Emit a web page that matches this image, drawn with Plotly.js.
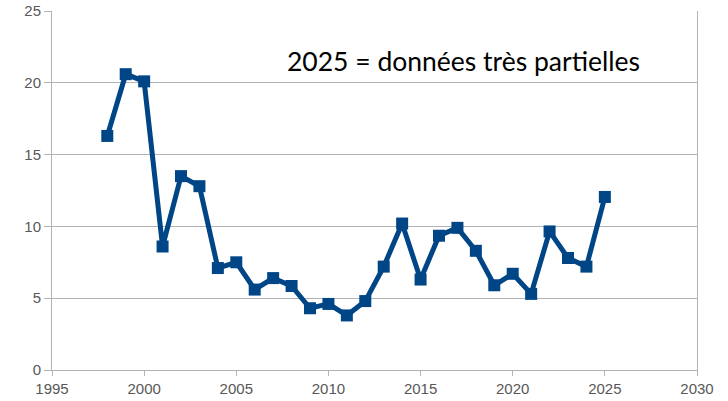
<!DOCTYPE html>
<html>
<head>
<meta charset="utf-8">
<script src="https://cdn.plot.ly/plotly-3.0.1.min.js"></script>
<style>
  body { margin: 0; background: #fff; }
  #chart { width: 728px; height: 401px; }
</style>
</head>
<body>
<div id="chart"></div>
<script>
// Années et valeurs
const annees = [1998, 1999, 2000, 2001, 2002, 2003, 2004, 2005, 2006, 2007,
                2008, 2009, 2010, 2011, 2012, 2013, 2014, 2015, 2016, 2017,
                2018, 2019, 2020, 2021, 2022, 2023, 2024, 2025];
const valeurs = [16.3, 20.6, 20.1, 8.6, 13.5, 12.8, 7.1, 7.5, 5.6, 6.4,
                 5.85, 4.3, 4.6, 3.8, 4.8, 7.2, 10.2, 6.3, 9.35, 9.9,
                 8.3, 5.9, 6.7, 5.3, 9.65, 7.8, 7.2, 12.05];
const ticksX = [1995, 2000, 2005, 2010, 2015, 2020, 2025, 2030];
const ticksY = [0, 5, 10, 15, 20, 25];
const note = '2025 = données très partielles';

const trace = {
    x: annees,
    y: valeurs,
    type: 'scatter',
    mode: 'lines+markers',
    line: { color: '#004586', width: 5 },
    marker: { symbol: 'square', size: 12, color: '#004586' },
    hoverinfo: 'x+y'
};

const layout = {
    width: 728,
    height: 401,
    margin: { l: 52, r: 31, t: 11, b: 31 },
    paper_bgcolor: '#ffffff',
    plot_bgcolor: '#ffffff',
    showlegend: false,
    font: { family: 'Liberation Sans, Arial, sans-serif', size: 15, color: '#585858' },
    xaxis: {
        range: [1995, 2030],
        tickvals: ticksX,
        ticktext: ticksX.map(String),
        showgrid: false,
        zeroline: false,
        showline: true,
        linecolor: '#b3b3b3',
        linewidth: 1,
        ticks: 'outside',
        ticklen: 5,
        tickcolor: '#b3b3b3'
    },
    yaxis: {
        range: [0, 25],
        tickvals: ticksY,
        ticktext: ticksY.map(String),
        showgrid: true,
        gridcolor: '#b3b3b3',
        zeroline: false,
        showline: true,
        mirror: true,
        linecolor: '#b3b3b3',
        linewidth: 1,
        ticks: 'outside',
        ticklen: 7,
        tickcolor: '#b3b3b3'
    },
    annotations: [{
        text: note,
        xref: 'paper', yref: 'paper',
        x: 0.914, y: 0.862,
        xanchor: 'right', yanchor: 'middle',
        showarrow: false,
        font: { family: 'Lato, Open Sans, sans-serif', size: 26.5, color: '#000000' }
    }]
};

Plotly.newPlot('chart', [trace], layout, { displayModeBar: false, staticPlot: true });
</script>
</body>
</html>
